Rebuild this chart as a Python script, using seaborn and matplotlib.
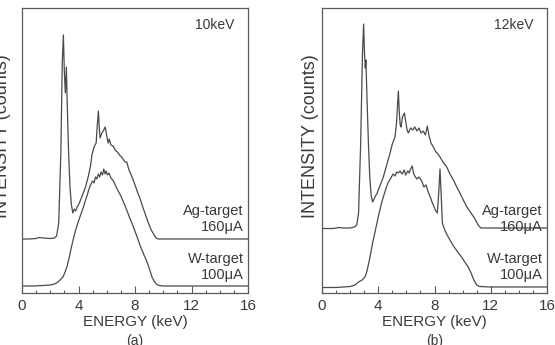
import matplotlib
matplotlib.use("Agg")
import matplotlib.pyplot as plt
from matplotlib.ticker import MultipleLocator
import seaborn as sns
import pandas as pd

# ---- data (energy keV, intensity in arbitrary offset units) ----
ag10_e = [0, 0.5, 1.0, 1.2, 1.5, 2.0, 2.3, 2.45, 2.6, 2.75, 2.85, 2.93, 3.0, 3.07, 3.14, 3.2, 3.3,
          3.4, 3.5, 3.6, 3.7, 3.8, 3.9, 4.0, 4.2, 4.5, 4.7, 4.85, 4.95, 5.1, 5.25, 5.33, 5.41,
          5.47, 5.53, 5.65, 5.75, 5.89, 6.0, 6.1, 6.17, 6.3, 6.45, 6.6, 6.75, 6.9, 7.05, 7.2,
          7.3, 7.42, 7.55, 7.7, 7.85, 8.0, 8.2, 8.37, 8.55, 8.75, 8.95, 9.15, 9.31, 9.5, 9.65,
          10, 12, 14, 16]
ag10_i = [54, 54, 54.5, 55.5, 55, 54.5, 55, 57, 70, 140, 230, 258, 220, 200, 226, 190, 140,
          105, 88, 80, 84, 82, 86, 88, 95, 106, 117, 127, 138, 146, 150, 168, 182,
          165, 155, 160, 162, 166, 157, 150, 154, 148, 147, 143, 141, 138, 136, 133,
          131, 131, 124, 119, 114, 108, 100, 94, 86, 78, 70, 63, 59, 55, 54,
          54, 54, 54, 54]

w10_e = [0, 0.8, 1.5, 2.0, 2.3, 2.5, 2.7, 2.9, 3.05, 3.2, 3.35, 3.5, 3.65, 3.8, 4.0, 4.2, 4.35,
         4.5, 4.6, 4.72, 4.85, 5.0, 5.1, 5.2, 5.3, 5.4, 5.5, 5.6, 5.7, 5.79, 5.88, 5.95, 6.05,
         6.15, 6.3, 6.42, 6.54, 6.7, 6.85, 7.0, 7.15, 7.3, 7.47, 7.6, 7.75, 7.94, 8.1, 8.25,
         8.4, 8.55, 8.7, 8.88, 9.05, 9.2, 9.35, 9.5, 9.7, 10, 12, 14, 16]
w10_i = [7, 7, 7.5, 8, 9, 10.5, 13, 16, 21, 27, 36, 46, 55, 63, 72, 80, 86,
         93, 97, 103, 108, 112, 110, 116, 114, 119, 116, 121, 118, 124, 119, 122, 118,
         120, 115, 113, 110, 105, 101, 97, 92, 87, 81, 76, 71, 64, 58, 52,
         46, 41, 36, 30, 23, 16, 12, 9, 7.5, 7, 7, 7, 7]

ag12_e = [0, 0.8, 1.2, 1.5, 2.0, 2.3, 2.47, 2.6, 2.75, 2.88, 2.96, 3.02, 3.08, 3.12, 3.2, 3.3,
          3.4, 3.5, 3.6, 3.7, 3.8, 3.9, 4.0, 4.2, 4.36, 4.6, 4.84, 5.0, 5.19, 5.3, 5.43, 5.5,
          5.56, 5.62, 5.72, 5.86, 5.95, 6.05, 6.14, 6.3, 6.45, 6.6, 6.75, 6.9, 7.05, 7.2, 7.35,
          7.49, 7.6, 7.75, 7.92, 8.1, 8.25, 8.39, 8.6, 8.87, 9.1, 9.34, 9.55, 9.8, 10.05, 10.3,
          10.6, 10.88, 11.1, 11.3, 12, 14, 16]
ag12_i = [64.5, 64.5, 65.5, 65, 65, 66, 68, 80, 150, 240, 269, 240, 225, 233, 195, 150,
          115, 97, 91, 94, 97, 99, 103, 110, 116, 128, 140, 149, 156, 170, 202, 180,
          168, 166, 176, 180, 172, 163, 160, 165, 163, 166, 162, 165, 160, 162, 158,
          167, 158, 150, 146, 141, 139, 136, 131, 126, 119, 113, 107, 100, 93, 86,
          80, 74, 68, 65, 65, 65, 65]

w12_e = [0, 1.0, 1.5, 2.0, 2.35, 2.6, 2.85, 3.06, 3.2, 3.4, 3.6, 3.8, 4.0, 4.2, 4.36, 4.56,
         4.72, 4.9, 5.05, 5.2, 5.3, 5.43, 5.55, 5.7, 5.85, 5.95, 6.1, 6.2, 6.3, 6.42, 6.5,
         6.6, 6.75, 6.9, 7.09, 7.25, 7.4, 7.55, 7.7, 7.85, 8.0, 8.1, 8.2, 8.3, 8.39, 8.47,
         8.56, 8.7, 8.9, 9.1, 9.3, 9.5, 9.7, 9.93, 10.1, 10.25, 10.4, 10.6, 10.8, 11.0, 11.2,
         12, 14, 16]
w12_i = [5.5, 5.5, 6, 6.5, 8, 11, 13, 16, 22, 35, 50, 63, 76, 88, 96, 105,
         111, 115, 119, 117, 121, 120, 122, 119, 123, 118, 122, 120, 124, 127, 120,
         117, 114, 116, 112, 106, 108, 101, 96, 90, 85, 82, 80, 100, 124, 100,
         70, 64, 58, 53, 48, 44, 40, 36, 32, 29, 26, 20, 13, 8, 6.5,
         6, 6, 6]

panel_titles = ["10keV", "12keV"]
panel_letters = ["(a)", "(b)"]
xticks = [0, 4, 8, 12, 16]
xlabel = "ENERGY (keV)"
ylabel = "INTENSITY (counts)"
ag_label = "Ag-target\n160\u03bcA"
w_label = "W-target\n100\u03bcA"

# ---- style ----
sns.set_style("ticks")
plt.rcParams["font.family"] = ["Liberation Sans", "DejaVu Sans"]
line_c = "#4a4a4a"
spine_c = "#5a5a5a"
text_c = "#3a3a3a"

fig = plt.figure(figsize=(5.55, 3.45), dpi=100)
ax_a = fig.add_axes([22 / 555, 1 - 293 / 345, 226 / 555, 285 / 345])
ax_b = fig.add_axes([322 / 555, 1 - 293 / 345, 225 / 555, 285 / 345])

panels = [
    (ax_a, ag10_e, ag10_i, w10_e, w10_i, 0, 11),
    (ax_b, ag12_e, ag12_i, w12_e, w12_i, 1, 3),
]

for ax, ae, ai, we, wi, k, ylab_off in panels:
    dfa = pd.DataFrame({"E": ae, "I": ai})
    dfw = pd.DataFrame({"E": we, "I": wi})
    sns.lineplot(data=dfa, x="E", y="I", ax=ax, color=line_c, lw=0.9,
                 estimator=None, sort=False)
    sns.lineplot(data=dfw, x="E", y="I", ax=ax, color=line_c, lw=0.9,
                 estimator=None, sort=False)
    ax.set_xlim(0, 16)
    ax.set_ylim(0, 285)
    ax.set_xticks(xticks)
    ax.xaxis.set_minor_locator(MultipleLocator(1))
    ax.set_yticks([])
    ax.tick_params(axis="x", which="major", direction="in", length=5, width=0.8,
                   color=spine_c, labelsize=11, labelcolor=text_c, pad=4)
    ax.tick_params(axis="x", which="minor", direction="in", length=2.5, width=0.8,
                   color=spine_c)
    for s in ax.spines.values():
        s.set_visible(True)
        s.set_color(spine_c)
        s.set_linewidth(0.9)
    ax.set_xlabel(xlabel, fontsize=11, color=text_c, labelpad=2)
    ax.set_ylabel(ylabel, fontsize=13, color=text_c)
    ax.yaxis.set_label_coords(-ylab_off / 226, 0.55)
    ax.text(0.94, 0.94, panel_titles[k], transform=ax.transAxes, ha="right",
            va="center", fontsize=10, color=text_c)
    ax.text(0.98, (293 - 219) / 285, ag_label, transform=ax.transAxes, ha="right",
            va="center", fontsize=10.5, color=text_c, linespacing=1.15)
    ax.text(0.98, (293 - 267) / 285, w_label, transform=ax.transAxes, ha="right",
            va="center", fontsize=10.5, color=text_c, linespacing=1.15)

fig.text(135 / 555, 1 - 341 / 345, panel_letters[0], ha="center", va="center",
         fontsize=10, color=text_c)
fig.text(435 / 555, 1 - 341 / 345, panel_letters[1], ha="center", va="center",
         fontsize=10, color=text_c)

fig.savefig("out.png", dpi=100)
